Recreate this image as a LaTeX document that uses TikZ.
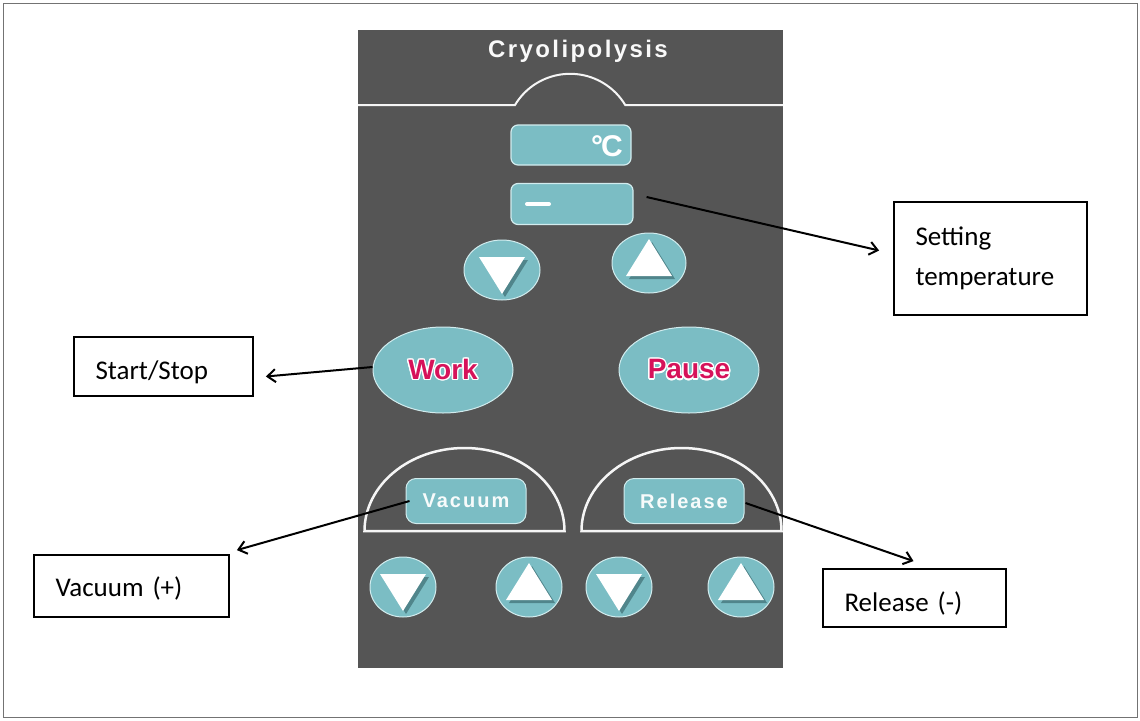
\documentclass[tikz,border=0pt]{standalone}
\usepackage{fontspec}
\usepackage{contour}
\usetikzlibrary{shapes.geometric,arrows.meta}
\contourlength{1.3pt}
\newfontfamily\calloutfont{Carlito}
\newfontfamily\panelfont{Liberation Sans}
\newfontfamily\spacedfont[LetterSpace=10]{Liberation Sans Bold}
\definecolor{panelgray}{HTML}{555555}
\definecolor{keyteal}{HTML}{7BBDC4}
\definecolor{keyedge}{HTML}{D2ECEE}
\definecolor{keyshadow}{HTML}{3F6E73}
\definecolor{workred}{HTML}{D6125A}
\begin{document}
\begin{tikzpicture}[x=1pt,y=-1pt,
    keybtn/.style={ellipse,fill=keyteal,draw=keyedge,line width=1pt,inner sep=0pt},
    lcdbox/.style={rounded corners=7pt,fill=keyteal,draw=keyedge,line width=1.2pt,minimum width=120pt,minimum height=40pt,inner sep=0pt},
    modebtn/.style={rounded corners=10pt,fill=keyteal,draw=keyedge,line width=1pt,minimum width=120pt,minimum height=45pt,text=white!94!keyteal,font=\spacedfont\fontsize{20}{20}\selectfont},
    bigkey/.style={keybtn,minimum width=140pt,minimum height=86pt,text=workred,font=\panelfont\bfseries\fontsize{28}{28}\selectfont},
    arcline/.style={draw=white!92!gray,line width=2.5pt},
    callout/.style={draw,line width=1.8pt,inner xsep=21.5pt,align=left,font=\calloutfont\fontsize{27}{40}\selectfont},
    pointer/.style={-{Straight Barb[length=8pt,width=13pt]},line width=2pt}]
\useasboundingbox (0,0) rectangle (1140,720);
\draw[black!55,line width=0.8pt] (3,3) rectangle (1137,717);
\fill[panelgray] (358,30) rectangle (783,668);
\node[text=white!95!gray,font=\spacedfont\fontsize{24}{24}\selectfont] (title) at (578,51) {Cryolipolysis};
\draw[arcline,line width=2pt] (358,105) -- (515,105) arc[start angle=149,end angle=31,radius=64.3pt] -- (783,105);
\node[lcdbox] (lcdtemp) at (571,145) {};
\node[text=white,font=\panelfont\bfseries\fontsize{30}{30}\selectfont,inner sep=0pt] (degc) at (607,146) {°\kern-2ptC};
\node[lcdbox,minimum width=122pt,minimum height=41pt] (lcdset) at (572,204) {};
\draw[white,line width=4pt,line cap=round] ([xshift=-45pt]lcdset.center) -- ([xshift=-23pt]lcdset.center);
\foreach \name/\cx/\cy/\w/\h/\d in {tdown/502/270/76/60/-1,tup/649/263/74/60/1,vdown/403/587/66/60/-1,vup/529/587/66/60/1,rdown/619/587/66/60/-1,rup/741/587/66/60/1}{
  \node[keybtn,minimum width=\w pt,minimum height=\h pt] (\name) at (\cx,\cy) {};
  \fill[keyshadow,opacity=0.7] ([shift={(3,3)}]\name.center) ++(0,{-24*(\d)}) -- ++(-23,{37*(\d)}) -- ++(46,0) -- cycle;
  \fill[white] (\name.center) ++(0,{-24*(\d)}) -- ++(-23,{37*(\d)}) -- ++(46,0) -- cycle;
}
\node[bigkey] (work) at (443,370) {\contour{white}{Work}};
\node[bigkey] (pause) at (689,370) {\contour{white}{Pause}};
\draw[arcline] (364.5,531) arc[start angle=180,end angle=0,x radius=100pt,y radius=83pt] -- cycle;
\draw[arcline] (581.5,531) arc[start angle=180,end angle=0,x radius=100pt,y radius=83pt] -- cycle;
\node[modebtn] (vacbtn) at (466,501) {Vacuum};
\node[modebtn] (relbtn) at (684,501) {Release};
\node[callout,text width=150pt,minimum height=113pt] (tempnote) at (990.5,258.5) {Setting\\temperature};
\node[callout,text width=136pt,minimum height=59pt,text height=25pt,text depth=0pt] (stopnote) at (163.5,366.5) {Start/Stop};
\node[callout,text width=152pt,minimum height=62pt,text height=21pt,text depth=0pt] (vacnote) at (131.5,586) {Vacuum (+)};
\node[callout,text width=140pt,minimum height=58pt,text height=27pt,text depth=0pt] (relnote) at (914.5,598) {Release (-)};
\draw[pointer] ([xshift=13pt,yshift=7pt]lcdset.east) -- ([xshift=-14pt,yshift=8pt]tempnote.west);
\draw[pointer] ([yshift=3pt]work.west) -- ([xshift=12pt,yshift=-10pt]stopnote.east);
\draw[pointer] ([xshift=4pt]vacbtn.west) -- ([xshift=7pt,yshift=4pt]vacnote.north east);
\draw[pointer] ([xshift=1pt,yshift=-2pt]relbtn.east) -- ([xshift=-1pt,yshift=7pt]relnote.north);
\end{tikzpicture}
\end{document}
